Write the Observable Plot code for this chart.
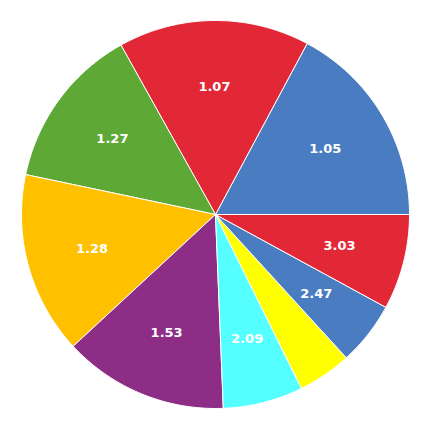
<!DOCTYPE html>
<html>
<head>
<meta charset="utf-8">
<script src="https://cdn.jsdelivr.net/npm/d3@7"></script>
<script src="https://cdn.jsdelivr.net/npm/@observablehq/plot@0.6"></script>
<style>
  html, body { margin: 0; padding: 0; background: #fff; }
  #chart { width: 429px; height: 429px; }
</style>
</head>
<body>
<div id="chart"></div>
<script>
// Slice shares (percent of the circle), drawn counter-clockwise from 3 o'clock
const labels = ["1.05", "1.07", "1.27", "1.28", "1.53", "2.09", "", "2.47", "3.03"];
const shares = [17.17, 15.93, 13.60, 15.19, 13.75, 6.67, 4.47, 5.28, 7.94];
const colors = ["#4a7cc1", "#e22837", "#5ea836", "#ffc000", "#8e2d86", "#55ffff", "#ffff00", "#4a7cc1", "#e22837"];

const total = d3.sum(shares);
const startAngle = 90; // degrees clockwise from 12 o'clock
const rad = Math.PI / 180;

const polys = [];
const texts = [];
let a = startAngle;
shares.forEach((s, i) => {
  const span = s / total * 360;
  const a0 = a, a1 = a - span;
  const n = Math.max(2, Math.ceil(span));
  polys.push({key: i, color: colors[i], x: 0, y: 0});
  for (let k = 0; k <= n; k++) {
    const t = (a0 + (a1 - a0) * k / n) * rad;
    polys.push({key: i, color: colors[i], x: Math.sin(t), y: Math.cos(t)});
  }
  polys.push({key: i, color: colors[i], x: 0, y: 0});
  const m = ((a0 + a1) / 2) * rad;
  texts.push({label: labels[i], x: 0.66 * Math.sin(m), y: 0.66 * Math.cos(m)});
  a = a1;
});

const chart = Plot.plot({
  width: 429,
  height: 429,
  marginLeft: 21,
  marginRight: 20,
  marginTop: 20,
  marginBottom: 21,
  x: {domain: [-1, 1], axis: null},
  y: {domain: [-1, 1], axis: null},
  color: {type: "identity"},
  marks: [
    Plot.line(polys, {x: "x", y: "y", z: "key", fill: "color", stroke: "white", strokeWidth: 1, strokeLinejoin: "round"}),
    Plot.text(texts, {x: "x", y: "y", text: "label", fill: "white", fontWeight: "bold", fontSize: 13, fontFamily: "DejaVu Sans, Verdana, sans-serif"})
  ]
});
document.getElementById("chart").appendChild(chart);
</script>
</body>
</html>
